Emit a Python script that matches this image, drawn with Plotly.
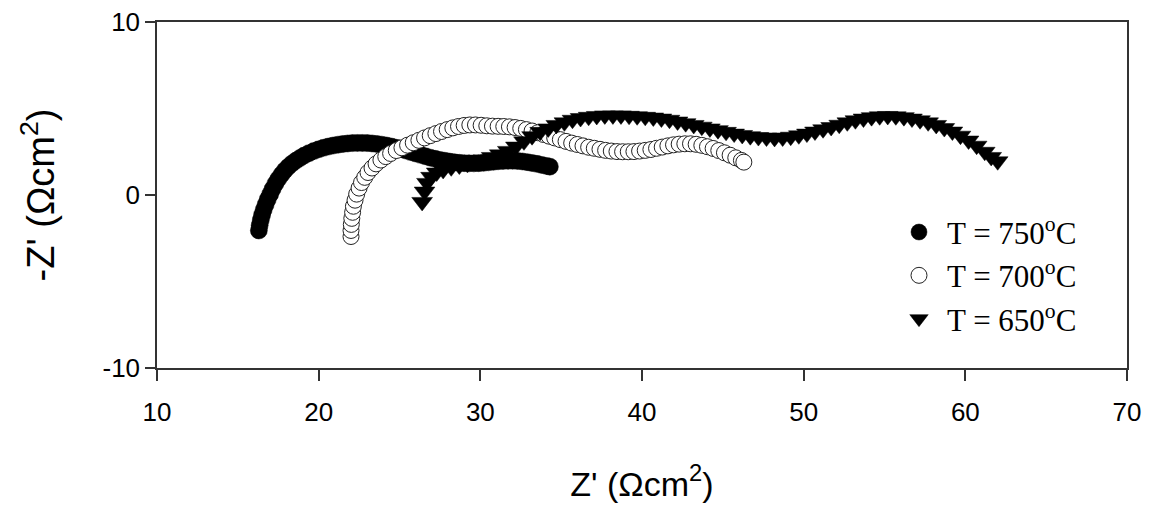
import plotly.graph_objects as go

# ---- data ----
x750 = [16.3, 16.35, 16.42, 16.5, 16.6, 16.72, 16.85, 17.0, 17.15, 17.32, 17.5, 17.7, 17.9, 18.12,
        18.35, 18.6, 18.85, 19.1, 19.4, 19.7, 20.0, 20.3, 20.6, 20.9, 21.2, 21.5, 21.8, 22.1,
        22.4, 22.7, 23.0, 23.3, 23.6, 23.9, 24.2, 24.5, 24.8, 25.1, 25.4, 25.7, 26.0, 26.3,
        26.6, 26.9, 27.2, 27.5, 27.8, 28.1, 28.4, 28.7, 29.0, 29.3, 29.6, 29.9, 30.2, 30.5,
        30.8, 31.1, 31.4, 31.7, 32.0, 32.3, 32.6, 32.9, 33.2, 33.5, 33.8, 34.1, 34.3]
y750 = [-2.05, -1.75, -1.45, -1.15, -0.85, -0.55, -0.25, 0.05, 0.35, 0.65, 0.92, 1.18, 1.42, 1.63,
        1.82, 1.99, 2.14, 2.28, 2.42, 2.54, 2.64, 2.73, 2.8, 2.86, 2.91, 2.95, 2.98, 3.0,
        3.01, 3.01, 3.0, 2.98, 2.95, 2.91, 2.86, 2.8, 2.73, 2.65, 2.57, 2.48, 2.4, 2.32,
        2.24, 2.16, 2.09, 2.03, 1.98, 1.93, 1.89, 1.86, 1.84, 1.83, 1.83, 1.84, 1.86, 1.89,
        1.92, 1.95, 1.97, 1.98, 1.98, 1.97, 1.94, 1.9, 1.85, 1.8, 1.74, 1.68, 1.64]

x700 = [22.0, 22.0, 22.02, 22.05, 22.1, 22.15, 22.25, 22.35, 22.5, 22.65, 22.85, 23.05, 23.3,
        23.55, 23.85, 24.15, 24.45, 24.8, 25.15, 25.5, 25.85, 26.2, 26.55, 26.9, 27.25, 27.6,
        27.95, 28.3, 28.65, 29.0, 29.35, 29.7, 30.05, 30.4, 30.75, 31.1, 31.45, 31.8, 32.15,
        32.5, 32.85, 33.2, 33.55, 33.9, 34.25, 34.6, 34.95, 35.3, 35.65, 36.0, 36.35, 36.7,
        37.05, 37.4, 37.75, 38.1, 38.45, 38.8, 39.15, 39.5, 39.85, 40.2, 40.55, 40.9, 41.25,
        41.6, 41.95, 42.3, 42.65, 43.0, 43.35, 43.7, 44.05, 44.4, 44.75, 45.1, 45.45, 45.8,
        46.15, 46.3]
y700 = [-2.4, -2.05, -1.7, -1.35, -1.0, -0.65, -0.3, 0.05, 0.4, 0.72, 1.02, 1.3, 1.56,
        1.8, 2.02, 2.22, 2.4, 2.57, 2.73, 2.88, 3.02, 3.16, 3.3, 3.43, 3.55, 3.67,
        3.78, 3.88, 3.96, 4.02, 4.05, 4.05, 4.03, 4.0, 3.98, 3.97, 3.96, 3.94, 3.9,
        3.85, 3.78, 3.7, 3.6, 3.5, 3.4, 3.3, 3.2, 3.1, 3.0, 2.92, 2.84, 2.76,
        2.7, 2.64, 2.58, 2.54, 2.51, 2.5, 2.5, 2.51, 2.54, 2.58, 2.63, 2.7, 2.77,
        2.84, 2.9, 2.94, 2.96, 2.96, 2.93, 2.87, 2.79, 2.69, 2.57, 2.44, 2.3, 2.15,
        2.0, 1.9]

x650 = [26.4, 26.55, 26.7, 26.95, 27.3, 27.7, 28.2, 28.7, 29.2, 29.7, 30.2, 30.7, 31.2, 31.7,
        32.2, 32.7, 33.2, 33.7, 34.2, 34.7, 35.2, 35.7, 36.2, 36.7, 37.2, 37.7, 38.2, 38.7,
        39.2, 39.7, 40.2, 40.7, 41.2, 41.7, 42.2, 42.7, 43.2, 43.7, 44.2, 44.7, 45.2, 45.7,
        46.2, 46.7, 47.2, 47.7, 48.2, 48.7, 49.2, 49.7, 50.2, 50.7, 51.2, 51.7, 52.2, 52.7,
        53.2, 53.7, 54.2, 54.7, 55.2, 55.7, 56.2, 56.7, 57.2, 57.7, 58.2, 58.7, 59.2, 59.7,
        60.2, 60.7, 61.2, 61.6, 62.0]
y650 = [-0.4, 0.2, 0.7, 1.05, 1.3, 1.45, 1.6, 1.7, 1.8, 1.9, 2.05, 2.2, 2.35, 2.55,
        2.8, 3.1, 3.4, 3.65, 3.85, 4.05, 4.2, 4.35, 4.45, 4.52, 4.57, 4.6, 4.6, 4.6,
        4.58, 4.55, 4.52, 4.48, 4.42, 4.35, 4.25, 4.15, 4.05, 3.95, 3.85, 3.75, 3.65, 3.55,
        3.47, 3.4, 3.35, 3.32, 3.3, 3.32, 3.37, 3.45, 3.55, 3.67, 3.8, 3.93, 4.06, 4.2,
        4.32, 4.42, 4.5, 4.55, 4.57, 4.55, 4.5, 4.42, 4.32, 4.2, 4.05, 3.87, 3.67, 3.43,
        3.15, 2.85, 2.5, 2.2, 1.95]

names = ["T = 750<sup>o</sup>C", "T = 700<sup>o</sup>C", "T = 650<sup>o</sup>C"]
x_ticks = [10, 20, 30, 40, 50, 60, 70]
x_ticktext = ["10", "20", "30", "40", "50", "60", "70"]
y_ticks = [-10, 0, 10]
y_ticktext = ["-10", "0", "10"]

fig = go.Figure()
fig.add_trace(go.Scatter(x=x750, y=y750, mode="markers", name=names[0],
                         marker=dict(symbol="circle", size=17, color="black",
                                     line=dict(color="black", width=0.5))))
fig.add_trace(go.Scatter(x=x700, y=y700, mode="markers", name=names[1],
                         marker=dict(symbol="circle", size=16, color="white",
                                     line=dict(color="#222", width=1))))
fig.add_trace(go.Scatter(x=x650, y=y650, mode="markers", name=names[2],
                         marker=dict(symbol="triangle-down", size=18, color="black",
                                     line=dict(color="black", width=0.5))))

axis_font = dict(family="Liberation Sans, Arial, sans-serif", size=26, color="black")

fig.update_layout(
    width=1149, height=510,
    margin=dict(l=157, r=22, t=22, b=142),
    paper_bgcolor="white", plot_bgcolor="white",
    showlegend=True,
    legend=dict(x=0.7567, y=0.47, xanchor="left", yanchor="top",
                font=dict(family="Liberation Serif, Times New Roman, serif", size=31, color="black"),
                bgcolor="rgba(0,0,0,0)", borderwidth=0, itemwidth=46, itemsizing="trace",
                tracegroupgap=0),
    xaxis=dict(range=[10, 70], tickvals=x_ticks, ticktext=x_ticktext, ticks="outside",
               ticklen=11, tickwidth=1.5, tickcolor="#333", showline=True, linecolor="#333",
               linewidth=1.5, mirror=True, showgrid=False, zeroline=False, tickfont=axis_font,
               ticklabelstandoff=9, automargin=False,
               title=dict(text="Z' (Ωcm<sup>2</sup>)",
                          font=dict(family="Liberation Sans, Arial, sans-serif", size=34, color="black"),
                          standoff=46)),
    yaxis=dict(range=[-10, 10], tickvals=y_ticks, ticktext=y_ticktext, ticks="outside",
               ticklen=10, tickwidth=1.5, tickcolor="#333", showline=True, linecolor="#333",
               linewidth=1.5, mirror=True, showgrid=False, zeroline=False, tickfont=axis_font,
               ticklabelstandoff=0, automargin=False,
               title=dict(text="-Z' (Ωcm<sup>2</sup>)",
                          font=dict(family="Liberation Sans, Arial, sans-serif", size=38, color="black"),
                          standoff=36)),
)

fig.write_html("out.html", config={"displayModeBar": False},
               post_script="document.body.style.margin='0';")
